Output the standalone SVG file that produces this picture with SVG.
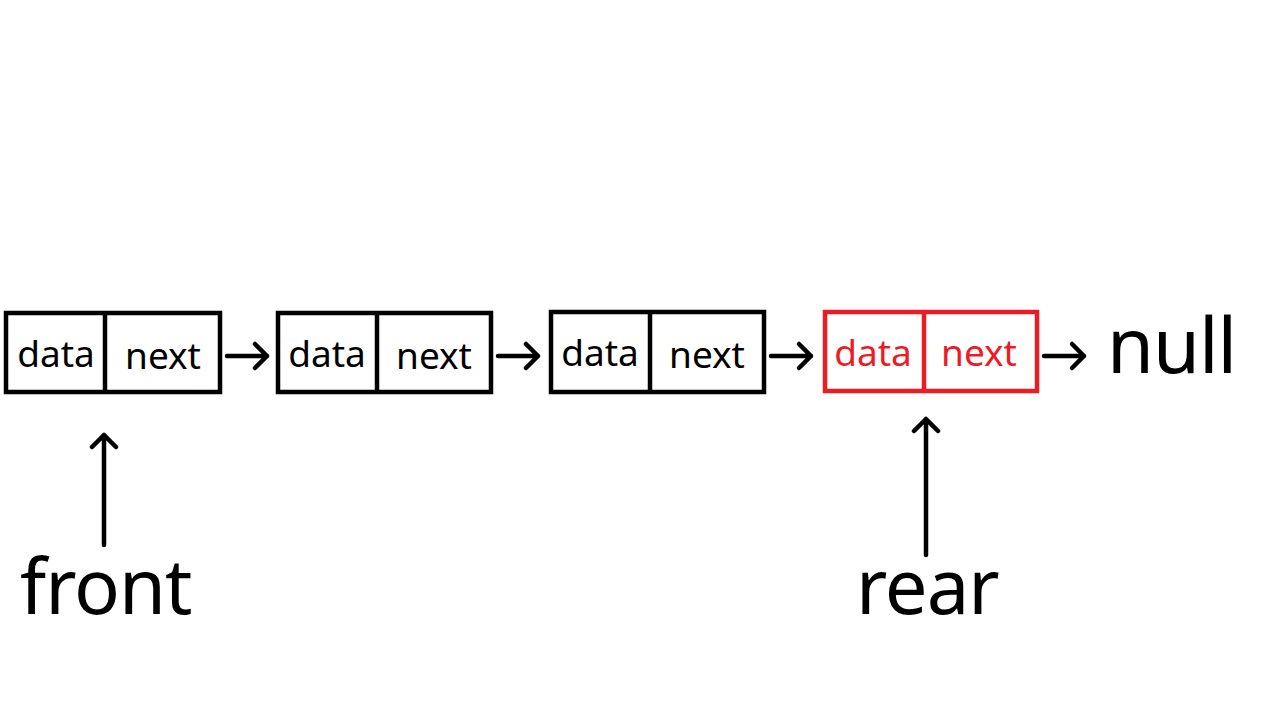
<svg xmlns="http://www.w3.org/2000/svg" width="1280" height="722" viewBox="0 0 1280 722">
<style>
.box{fill:#fff;stroke:#000;stroke-width:4.5}
.red .box{stroke:#ED1C24}
.div{stroke:#000;stroke-width:4.5}
.red .div{stroke:#ED1C24}
.t{font-family:"Noto Sans","Open Sans",sans-serif;font-size:37px;fill:#000;text-anchor:middle}
.red .t{fill:#ED1C24}
.big{font-family:"Noto Sans","Open Sans",sans-serif;font-size:76px;fill:#000;letter-spacing:-1px}
.ar{fill:none;stroke:#000;stroke-width:4.5;stroke-linecap:round;stroke-linejoin:round}
</style>
<rect width="1280" height="722" fill="#fff"/>
<g id="node1">
<rect class="box" x="6" y="313" width="214" height="79"/>
<line class="div" x1="105" y1="313" x2="105" y2="392"/>
<text class="t" x="56" y="367">data</text>
<text class="t" x="163" y="369">next</text>
</g>
<g id="node2">
<rect class="box" x="278" y="313" width="213" height="79"/>
<line class="div" x1="377" y1="313" x2="377" y2="392"/>
<text class="t" x="327" y="367">data</text>
<text class="t" x="434" y="369">next</text>
</g>
<g id="node3">
<rect class="box" x="551" y="312" width="213" height="80"/>
<line class="div" x1="650" y1="312" x2="650" y2="392"/>
<text class="t" x="600" y="366">data</text>
<text class="t" x="707" y="368">next</text>
</g>
<g id="node4" class="red">
<rect class="box" x="825" y="312" width="212" height="79"/>
<line class="div" x1="924" y1="312" x2="924" y2="391"/>
<text class="t" x="873" y="366">data</text>
<text class="t" x="979" y="366">next</text>
</g>
<g id="null"><text class="big" x="1107" y="373">null</text></g>
<g id="front"><text class="big" x="20" y="614">front</text></g>
<g id="rear"><text class="big" x="856" y="614">rear</text></g>
<g id="connectors">
<path class="ar" d="M227 356H267M255 344L267 356L255 368"/>
<path class="ar" d="M498 356H538M526 344L538 356L526 368"/>
<path class="ar" d="M771 356H811M799 344L811 356L799 368"/>
<path class="ar" d="M1044 356H1084M1072 344L1084 356L1072 368"/>
<path class="ar" d="M104 545V435M92 447L104 435L116 447"/>
<path class="ar" d="M926 555V419M914 431L926 419L938 431"/>
</g>
</svg>
